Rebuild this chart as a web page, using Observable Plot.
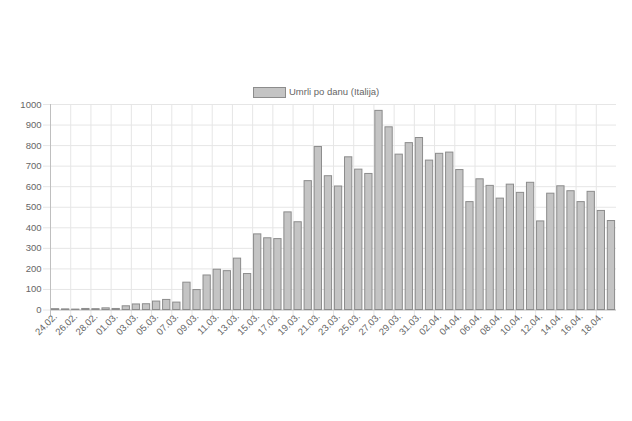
<!DOCTYPE html>
<html>
<head>
<meta charset="utf-8">
<script src="https://cdn.jsdelivr.net/npm/d3@7"></script>
<script src="https://cdn.jsdelivr.net/npm/@observablehq/plot@0.6"></script>
<style>
  html, body { margin: 0; padding: 0; background: #fff; }
  #wrap { width: 632px; height: 421px; overflow: hidden; font-family: "Liberation Sans", Arial, sans-serif; }
  #legend { position: relative; width: 632px; height: 100px; }
  #legend .box { position: absolute; left: 253px; top: 87px; width: 31px; height: 9px; background: #c4c4c4; border: 1px solid #8c8c8c; }
  #legend .txt { position: absolute; left: 289px; top: 86px; font-size: 9.5px; line-height: 12px; color: #666; white-space: nowrap; }
  svg { display: block; }
</style>
</head>
<body>
<div id="wrap">
  <div id="legend"><div class="box"></div><div class="txt">Umrli po danu (Italija)</div></div>
  <div id="chart"></div>
</div>
<script>
const seriesName = "Umrli po danu (Italija)";
const dates = [
  "24.02.","25.02.","26.02.","27.02.","28.02.","29.02.",
  "01.03.","02.03.","03.03.","04.03.","05.03.","06.03.","07.03.","08.03.","09.03.","10.03.",
  "11.03.","12.03.","13.03.","14.03.","15.03.","16.03.","17.03.","18.03.","19.03.","20.03.",
  "21.03.","22.03.","23.03.","24.03.","25.03.","26.03.","27.03.","28.03.","29.03.","30.03.","31.03.",
  "01.04.","02.04.","03.04.","04.04.","05.04.","06.04.","07.04.","08.04.","09.04.","10.04.",
  "11.04.","12.04.","13.04.","14.04.","15.04.","16.04.","17.04.","18.04.","19.04."
];
const deaths = [
  4, 3, 2, 5, 4, 8,
  5, 18, 27, 28, 41, 49, 36, 133, 97, 168,
  196, 189, 250, 175, 368, 349, 345, 475, 427, 627,
  793, 651, 601, 743, 683, 662, 969, 889, 756, 812, 837,
  727, 760, 766, 681, 525, 636, 604, 542, 610, 570,
  619, 431, 566, 602, 578, 525, 575, 482, 433
];
const yTicks = [0, 100, 200, 300, 400, 500, 600, 700, 800, 900, 1000];
const shownDates = dates.filter((d, i) => i % 2 === 0);

const data = dates.map((d, i) => ({ date: d, value: deaths[i] }));

const W = 632, H = 321, mL = 50, mR = 16, mT = 4, mB = 111.5;
const step = (W - mL - mR) / dates.length;

const chart = Plot.plot({
  width: W, height: H,
  marginLeft: mL, marginRight: mR, marginTop: mT, marginBottom: mB,
  style: { fontFamily: "'Liberation Sans', Arial, sans-serif", fontSize: "9.5px", color: "#666", background: "#fff", overflow: "visible" },
  x: { type: "band", domain: dates, paddingInner: 0.28, paddingOuter: 0.14, align: 0.5, round: false, label: null },
  y: { domain: [0, 1000], label: null },
  marks: [
    Plot.gridY(yTicks, { stroke: "#e6e6e6", strokeOpacity: 1 }),
    Plot.ruleX(shownDates.slice(1), { dx: -step / 2, stroke: "#e6e6e6", insetBottom: -7 }),
    Plot.ruleX([dates[0]], { dx: -step / 2, stroke: "#bfbfbf", insetBottom: -7 }),
    Plot.ruleY([0], { stroke: "#bfbfbf" }),
    Plot.axisY(yTicks, { tickSize: 7, tickPadding: 2, stroke: "#e6e6e6", fill: "#666", tickFormat: d => String(d), label: null }),
    Plot.axisX(shownDates, { tickSize: 0, tickRotate: -45, tickPadding: 5, fill: "#666", label: null }),
    Plot.barY(data, { x: "date", y: "value", fill: "#c4c4c4", stroke: "#8c8c8c", strokeWidth: 1 })
  ]
});
document.getElementById("chart").appendChild(chart);
</script>
</body>
</html>
